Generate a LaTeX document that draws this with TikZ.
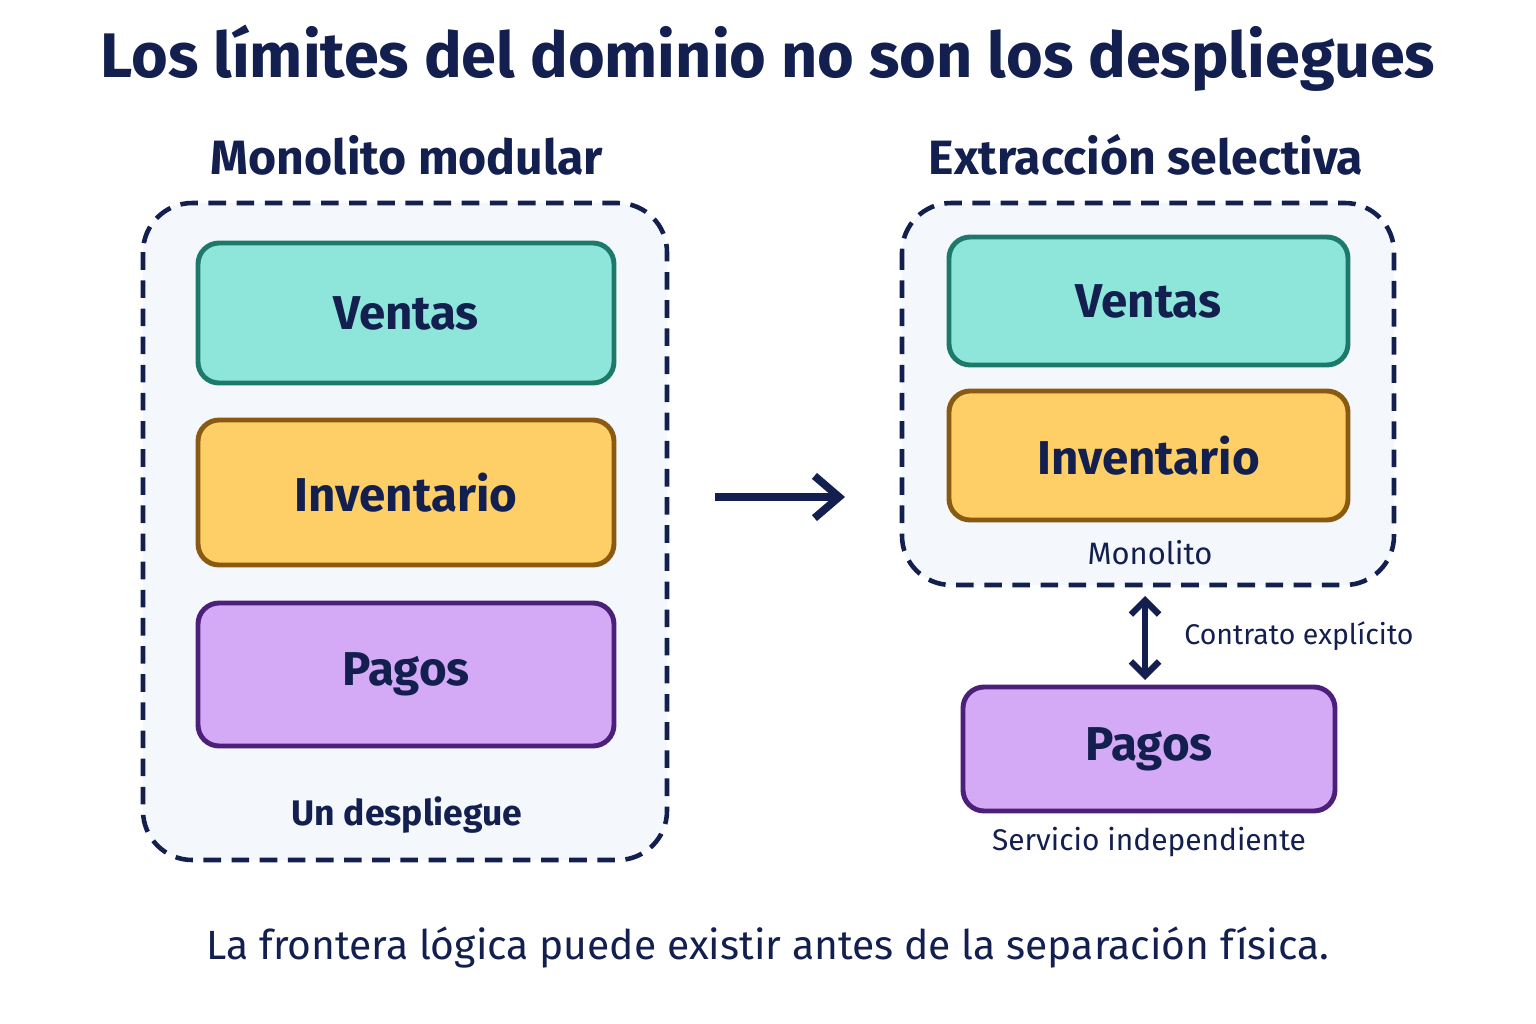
\documentclass[tikz,border=0pt]{standalone}
\usepackage{fontspec}
\setmainfont{Fira Sans}
\usepackage{xcolor}
\usetikzlibrary{arrows.meta, positioning}
\definecolor{navy}{HTML}{13204F}
\definecolor{panelbg}{HTML}{F4F8FC}
\definecolor{tealfill}{HTML}{8EE6DA}
\definecolor{tealline}{HTML}{1D7A6B}
\definecolor{yelfill}{HTML}{FDCF66}
\definecolor{yelline}{HTML}{8A5A10}
\definecolor{purfill}{HTML}{D4A9F5}
\definecolor{purline}{HTML}{4B1F7A}
\begin{document}
\begin{tikzpicture}[
    x=0.01cm, y=-0.01cm,
    panel/.style={draw=navy, dashed, line width=1.3pt, rounded corners=14pt, fill=panelbg, dash pattern=on 5pt off 3pt},
    module/.style={draw, line width=1.4pt, rounded corners=6pt, font=\bfseries\fontsize{13.5}{15}\selectfont, text=navy},
    note/.style={text=navy, font=\fontsize{8.5}{10}\selectfont},
    arrow/.style={-{Straight Barb[length=7pt, width=12pt]}, line width=2.2pt, draw=navy}
]
    \useasboundingbox (0,0) rectangle (1536,1024);
    % Title
    \node[text=navy, font=\bfseries\fontsize{17.9}{21}\selectfont] (title) at (768,58) {Los límites del dominio no son los despliegues};
    \node[text=navy, font=\bfseries\fontsize{13.7}{15}\selectfont] (lefthead) at (407,155) {Monolito modular};
    \node[text=navy, font=\bfseries\fontsize{13.7}{15}\selectfont] (righthead) at (1146,155) {Extracción selectiva};

    % Left: modular monolith
    \draw[panel] (143,203) rectangle (667,860);
    \draw[module, draw=tealline, fill=tealfill] (198,243) rectangle node (ventasL) {Ventas} (614,383);
    \draw[module, draw=yelline, fill=yelfill] (198,420) rectangle node (invL) {Inventario} (614,565);
    \draw[module, draw=purline, fill=purfill] (198,603) rectangle node (pagosL) {Pagos} (614,746);
    \node[text=navy, font=\bfseries\fontsize{10.1}{12}\selectfont] (deploy) at (407,815) {Un despliegue};

    % Arrow between
    \coordinate (from) at (715,497);
    \coordinate (to) at (845,497);
    \draw[arrow] (from) -- (to);

    % Right: selective extraction
    \draw[panel] (902,203) rectangle (1394,585);
    \draw[module, draw=tealline, fill=tealfill] (949,237) rectangle node (ventasR) {Ventas} (1348,365);
    \draw[module, draw=yelline, fill=yelfill] (949,391) rectangle node (invR) {Inventario} (1348,520);
    \node[note, font=\fontsize{8.8}{11}\selectfont] (mono) at (1150,553) {Monolito};
    \draw[module, draw=purline, fill=purfill] (963,687) rectangle node (pagosR) {Pagos} (1335,811);
    \node[note, font=\fontsize{8.5}{11}\selectfont] (service) at (1149,842) {Servicio independiente};
    \coordinate (ctop) at (1145,596);
    \coordinate (cbot) at (1145,680);
    \draw[{Straight Barb[length=4pt, width=8pt]}-{Straight Barb[length=4pt, width=8pt]}, line width=1.8pt, draw=navy] (ctop) -- (cbot);
    \node[note, anchor=west, font=\fontsize{8.1}{10}\selectfont] (contract) at (1172,636) {Contrato explícito};

    % Caption
    \node[text=navy, font=\fontsize{11.6}{14}\selectfont] (caption) at (768,947) {La frontera lógica puede existir antes de la separación física.};
\end{tikzpicture}
\end{document}
